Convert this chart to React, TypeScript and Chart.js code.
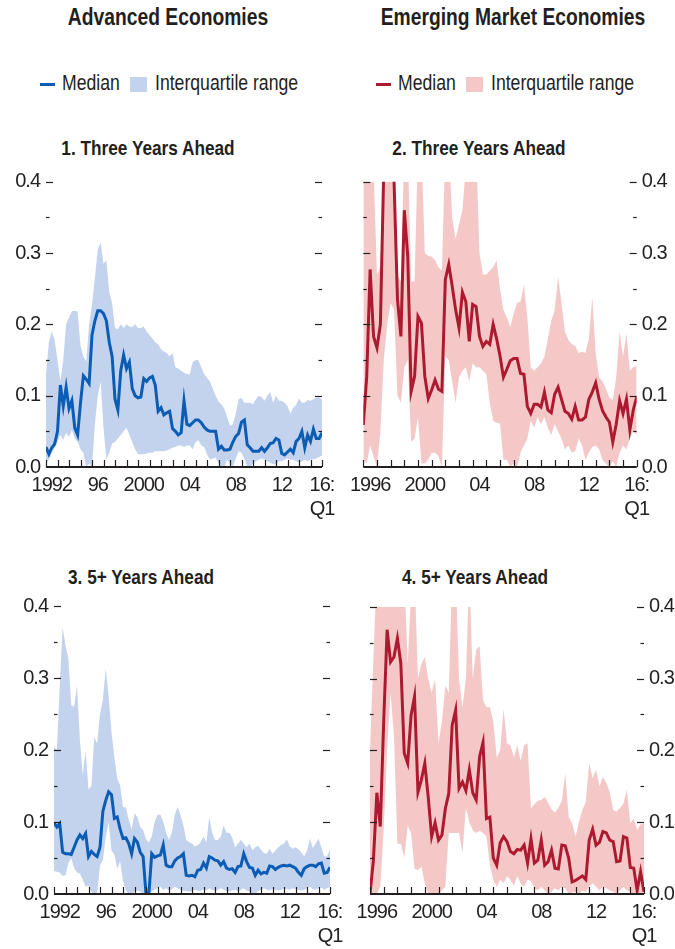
import React, { useEffect, useRef } from 'react';
import { Chart, registerables } from 'chart.js';

Chart.register(...registerables);

const FONT = "'Liberation Sans', Arial, Helvetica, sans-serif";
const TEXT = '#231f20';
const BLUE = '#0b5cb5';
const BLUE_BAND = '#c3d3ee';
const RED = '#ad1a2f';
const RED_BAND = '#f5c8c8';

const aeStart = 1992;
const emStart = 1996;
const endYear = 2016;

// Panel 1: Advanced Economies, three years ahead (1992:Q1 - 2016:Q1)
const ae3Median = [
  0.028, 0.018, 0.027, 0.032, 0.05, 0.115, 0.085, 0.112, 0.082, 0.093,
  0.055, 0.045, 0.09, 0.128, 0.123, 0.117, 0.185, 0.205, 0.219, 0.219,
  0.215, 0.205, 0.175, 0.155, 0.095, 0.08, 0.135, 0.157, 0.138, 0.147,
  0.11, 0.1, 0.097, 0.098, 0.124, 0.12, 0.125, 0.127, 0.115, 0.078,
  0.083, 0.073, 0.076, 0.078, 0.054, 0.05, 0.045, 0.048, 0.093, 0.06,
  0.058, 0.062, 0.066, 0.066, 0.062, 0.056, 0.052, 0.05, 0.05, 0.05,
  0.025, 0.029, 0.024, 0.024, 0.025, 0.035, 0.043, 0.047, 0.063, 0.066,
  0.031, 0.027, 0.022, 0.022, 0.022, 0.027, 0.022, 0.027, 0.033, 0.034,
  0.04, 0.038, 0.019, 0.017, 0.021, 0.025, 0.02, 0.036, 0.04, 0.05,
  0.027, 0.045, 0.036, 0.053, 0.04, 0.04, 0.048,
];
const ae3Upper = [
  0.13, 0.175, 0.19, 0.178, 0.15, 0.12, 0.15, 0.2, 0.21, 0.218,
  0.219, 0.218, 0.17, 0.155, 0.148, 0.2, 0.228, 0.265, 0.305, 0.315,
  0.285, 0.29, 0.245, 0.23, 0.195, 0.193, 0.2, 0.195, 0.2, 0.197,
  0.196, 0.2, 0.195, 0.195, 0.197, 0.19, 0.185, 0.18, 0.175, 0.172,
  0.165, 0.162, 0.16, 0.155, 0.16, 0.14, 0.138, 0.135, 0.132, 0.13,
  0.13, 0.147, 0.15, 0.15, 0.14, 0.13, 0.125, 0.12, 0.11, 0.1,
  0.092, 0.088, 0.082, 0.07, 0.058, 0.06, 0.075, 0.095, 0.097, 0.09,
  0.09, 0.09, 0.088, 0.095, 0.1, 0.098, 0.093, 0.1, 0.105, 0.09,
  0.1, 0.093, 0.093, 0.09, 0.085, 0.075, 0.083, 0.087, 0.096, 0.09,
  0.09, 0.094, 0.093, 0.095, 0.097, 0.097, 0.095,
];
const ae3Lower = [
  0.005, 0.01, 0.02, 0.027, 0.035, 0.045, 0.038, 0.048, 0.042, 0.052,
  0.04, 0.035, 0.025, 0.02, 0.0, 0.005, 0.0, 0.06, 0.1, 0.12,
  0.055, 0.01, 0.02, 0.033, 0.035, 0.04, 0.045, 0.05, 0.055, 0.045,
  0.035, 0.025, 0.018, 0.018, 0.018, 0.019, 0.02, 0.02, 0.022, 0.022,
  0.022, 0.022, 0.023, 0.025, 0.027, 0.028, 0.03, 0.03, 0.028, 0.03,
  0.03, 0.025, 0.035, 0.038, 0.03, 0.028, 0.018, 0.01, 0.012, 0.013,
  0.005, 0.0, 0.0, 0.01, 0.005, 0.0, 0.012, 0.022, 0.02, 0.012,
  0.0, 0.0, 0.005, 0.008, 0.01, 0.012, 0.01, 0.008, 0.006, 0.004,
  0.004, 0.008, 0.008, 0.01, 0.012, 0.01, 0.01, 0.008, 0.006, 0.008,
  0.01, 0.008, 0.01, 0.011, 0.012, 0.014, 0.016,
];

// Panel 2: Emerging Market Economies, three years ahead (1996:Q1 - 2016:Q1)
const em3Median = [
  0.059, 0.127, 0.277, 0.183, 0.167, 0.2, 0.42, 0.48, 0.46, 0.4,
  0.235, 0.183, 0.36, 0.296, 0.106, 0.127, 0.211, 0.202, 0.127, 0.096,
  0.108, 0.122, 0.109, 0.106, 0.263, 0.284, 0.254, 0.221, 0.195, 0.245,
  0.232, 0.176, 0.228, 0.225, 0.183, 0.169, 0.176, 0.172, 0.2, 0.18,
  0.156, 0.126, 0.137, 0.149, 0.152, 0.152, 0.131, 0.13, 0.085, 0.075,
  0.088, 0.088, 0.084, 0.105, 0.08, 0.076, 0.102, 0.112, 0.095, 0.078,
  0.075, 0.067, 0.085, 0.066, 0.066, 0.07, 0.095, 0.105, 0.118, 0.095,
  0.079, 0.07, 0.063, 0.035, 0.06, 0.093, 0.075, 0.095, 0.052, 0.08,
  0.098,
];
const em3Upper = [
  0.45, 0.45, 0.45, 0.42, 0.27, 0.28, 0.45, 0.45, 0.45, 0.45,
  0.27, 0.26, 0.45, 0.45, 0.26, 0.26, 0.45, 0.45, 0.3, 0.296,
  0.295, 0.29, 0.28, 0.275, 0.45, 0.45, 0.35, 0.32, 0.34, 0.36,
  0.42, 0.45, 0.45, 0.45, 0.3, 0.27, 0.27, 0.275, 0.28, 0.29,
  0.25, 0.22, 0.21, 0.196, 0.215, 0.23, 0.232, 0.255, 0.21, 0.14,
  0.135, 0.14, 0.145, 0.155, 0.18, 0.205, 0.22, 0.267, 0.23, 0.19,
  0.178, 0.172, 0.17, 0.16, 0.162, 0.16, 0.18, 0.238, 0.16, 0.126,
  0.12, 0.11, 0.097, 0.094, 0.126, 0.19, 0.155, 0.187, 0.135, 0.14,
  0.142,
];
const em3Lower = [
  0.01, 0.005, 0.03, 0.015, 0.0, 0.05, 0.15, 0.2, 0.23, 0.22,
  0.1, 0.09, 0.14, 0.15, 0.035, 0.04, 0.07, 0.005, 0.005, 0.01,
  0.02, 0.02, 0.015, 0.0, 0.155, 0.15, 0.12, 0.09, 0.125, 0.135,
  0.14, 0.12, 0.145, 0.14, 0.14, 0.135, 0.13, 0.09, 0.065, 0.062,
  0.061, 0.01, 0.01, 0.0, 0.005, 0.0, 0.02, 0.03, 0.04, 0.065,
  0.055, 0.07, 0.06, 0.07, 0.055, 0.045, 0.06, 0.05, 0.04, 0.025,
  0.03, 0.02, 0.022, 0.04, 0.03, 0.01, 0.02, 0.028, 0.03, 0.025,
  0.01, 0.005, 0.0, 0.008, 0.0, 0.02, 0.03, 0.025, 0.04, 0.05,
  0.045,
];

// Panel 3: Advanced Economies, 5+ years ahead (1992:Q1 - 2016:Q1)
const ae5Median = [
  0.099, 0.093, 0.098, 0.058, 0.056, 0.056, 0.055, 0.065, 0.075, 0.082,
  0.077, 0.084, 0.052, 0.059, 0.055, 0.052, 0.065, 0.115, 0.13, 0.142,
  0.138, 0.105, 0.107, 0.09, 0.077, 0.078, 0.07, 0.056, 0.077, 0.072,
  0.058, 0.052, 0.0, 0.0, 0.056, 0.051, 0.053, 0.054, 0.068, 0.04,
  0.038, 0.038, 0.046, 0.05, 0.052, 0.056, 0.026, 0.025, 0.026, 0.024,
  0.033, 0.034, 0.043, 0.036, 0.052, 0.05, 0.047, 0.046, 0.04, 0.045,
  0.036, 0.034, 0.035, 0.03, 0.038, 0.039, 0.056, 0.045, 0.037, 0.036,
  0.026, 0.033, 0.028, 0.03, 0.029, 0.039, 0.038, 0.034, 0.037, 0.039,
  0.04, 0.039, 0.04, 0.038, 0.036, 0.03, 0.026, 0.035, 0.038, 0.04,
  0.04, 0.038, 0.042, 0.043, 0.029, 0.03, 0.037,
];
const ae5Upper = [
  0.205, 0.2, 0.29, 0.37, 0.345, 0.327, 0.262, 0.26, 0.29, 0.215,
  0.165, 0.198, 0.145, 0.15, 0.218, 0.209, 0.25, 0.27, 0.313, 0.274,
  0.225, 0.19, 0.16, 0.151, 0.121, 0.12, 0.103, 0.09, 0.112, 0.107,
  0.093, 0.089, 0.076, 0.072, 0.08, 0.1, 0.11, 0.11, 0.1, 0.085,
  0.075, 0.085, 0.11, 0.121, 0.11, 0.095, 0.075, 0.072, 0.07, 0.066,
  0.068, 0.072, 0.08, 0.072, 0.107, 0.085, 0.075, 0.075, 0.08, 0.095,
  0.085, 0.085, 0.078, 0.065, 0.07, 0.075, 0.07, 0.065, 0.07, 0.061,
  0.065, 0.067, 0.061, 0.057, 0.056, 0.063, 0.056, 0.06, 0.065, 0.068,
  0.07, 0.076, 0.066, 0.063, 0.065, 0.062, 0.058, 0.052, 0.06, 0.077,
  0.064, 0.07, 0.077, 0.065, 0.052, 0.052, 0.062,
];
const ae5Lower = [
  0.032, 0.031, 0.03, 0.025, 0.026, 0.043, 0.05, 0.036, 0.03, 0.028,
  0.02, 0.01, 0.012, 0.003, 0.0, 0.0, 0.04, 0.047, 0.08, 0.1,
  0.06, 0.055, 0.035, 0.045, 0.018, 0.005, 0.0, 0.0, 0.003, 0.005,
  0.003, 0.0, 0.0, 0.0, 0.004, 0.006, 0.008, 0.01, 0.006, 0.008,
  0.005, 0.007, 0.01, 0.008, 0.006, 0.004, 0.004, 0.003, 0.004, 0.006,
  0.005, 0.004, 0.007, 0.005, 0.008, 0.006, 0.004, 0.006, 0.008, 0.006,
  0.004, 0.003, 0.005, 0.006, 0.004, 0.006, 0.008, 0.005, 0.003, 0.001,
  0.0, 0.004, 0.006, 0.008, 0.006, 0.005, 0.007, 0.006, 0.005, 0.006,
  0.008, 0.007, 0.006, 0.008, 0.007, 0.006, 0.005, 0.006, 0.008, 0.01,
  0.007, 0.006, 0.008, 0.009, 0.006, 0.008, 0.01,
];

// Panel 4: Emerging Market Economies, 5+ years ahead (1996:Q1 - 2016:Q1)
const em5Median = [
  0.0, 0.047, 0.141, 0.094, 0.24, 0.368, 0.323, 0.33, 0.356, 0.321,
  0.196, 0.182, 0.249, 0.275, 0.142, 0.159, 0.182, 0.135, 0.08, 0.099,
  0.075, 0.082, 0.119, 0.14, 0.235, 0.256, 0.147, 0.156, 0.144, 0.173,
  0.141, 0.131, 0.191, 0.211, 0.105, 0.107, 0.05, 0.04, 0.071, 0.08,
  0.073, 0.059, 0.056, 0.062, 0.061, 0.068, 0.043, 0.077, 0.043, 0.047,
  0.075, 0.04, 0.045, 0.061, 0.036, 0.035, 0.068, 0.067, 0.05, 0.017,
  0.019, 0.022, 0.025, 0.02, 0.075, 0.09, 0.068, 0.072, 0.087, 0.085,
  0.075, 0.073, 0.045, 0.046, 0.08, 0.078, 0.037, 0.036, 0.005, 0.031,
  0.003,
];
const em5Upper = [
  0.2, 0.33, 0.45, 0.45, 0.45, 0.45, 0.45, 0.45, 0.45, 0.45,
  0.45, 0.32, 0.42, 0.45, 0.3, 0.32, 0.33, 0.3, 0.28, 0.3,
  0.21, 0.24, 0.29, 0.28, 0.45, 0.45, 0.3, 0.26, 0.3, 0.45,
  0.3, 0.34, 0.345, 0.27, 0.26, 0.26, 0.24, 0.19, 0.2, 0.258,
  0.21, 0.207, 0.19, 0.207, 0.185, 0.207, 0.21, 0.119, 0.125, 0.13,
  0.131, 0.135, 0.127, 0.118, 0.113, 0.12, 0.13, 0.168, 0.108, 0.098,
  0.08, 0.1, 0.117, 0.128, 0.182, 0.161, 0.173, 0.15, 0.163, 0.155,
  0.142, 0.117, 0.115, 0.12, 0.126, 0.145, 0.098, 0.105, 0.089, 0.097,
  0.098,
];
const em5Lower = [
  0.0, 0.0, 0.0, 0.01, 0.09, 0.2, 0.28, 0.22, 0.07, 0.07,
  0.05, 0.095, 0.085, 0.035, 0.033, 0.038, 0.015, 0.0, 0.0, 0.0,
  0.0, 0.005, 0.01, 0.085, 0.085, 0.085, 0.085, 0.057, 0.12, 0.1,
  0.089, 0.085, 0.088, 0.085, 0.08, 0.04, 0.02, 0.01, 0.02, 0.015,
  0.025, 0.02, 0.012, 0.025, 0.015, 0.01, 0.02, 0.018, 0.008, 0.005,
  0.01, 0.005, 0.0, 0.003, 0.008, 0.005, 0.01, 0.008, 0.0, 0.002,
  0.003, 0.0, 0.005, 0.003, 0.01, 0.015, 0.01, 0.005, 0.01, 0.008,
  0.005, 0.003, 0.0, 0.005, 0.01, 0.005, 0.003, 0.0, 0.0, 0.0,
  0.0,
];

const aeTickLabels: (string | string[])[] = ['1992', '96', '2000', '04', '08', '12', ['16:', 'Q1']];
const aeTickPositions = [1992.5, 1996.5, 2000.5, 2004.5, 2008.5, 2012.5, 2016];
const emTickLabels: (string | string[])[] = ['1996', '2000', '04', '08', '12', ['16:', 'Q1']];
const emTickPositions = [1996.5, 2000.5, 2004.5, 2008.5, 2012.5, 2016];
const yTickValues = [0, 0.1, 0.2, 0.3, 0.4];

const toPoints = (start: number, vals: number[]) => vals.map((v, i) => ({ x: start + i / 4, y: v }));

const condensePlugin = {
  id: 'condense',
  beforeDraw(chart: any) {
    try { (chart.ctx as any).letterSpacing = '-1px'; } catch (e) { /* ignore */ }
  },
};

const marksPlugin = {
  id: 'innerMarks',
  afterDatasetsDraw(chart: any, _args: any, opts: any) {
    const { ctx, chartArea: a, scales } = chart;
    const xs = scales.x;
    const ys = scales.y;
    ctx.save();
    ctx.strokeStyle = TEXT;
    ctx.lineWidth = 1.2;
    for (let k = 1; k <= 8; k++) {
      const py = Math.round(ys.getPixelForValue(k * 0.05)) + 0.5;
      const len = k % 2 === 0 ? 7 : 3.5;
      ctx.beginPath();
      ctx.moveTo(a.left, py);
      ctx.lineTo(a.left + len, py);
      ctx.stroke();
      ctx.beginPath();
      ctx.moveTo(a.right, py);
      ctx.lineTo(a.right - len, py);
      ctx.stroke();
    }
    const y0 = ys.getPixelForValue(0);
    for (let yr = opts.start; yr <= endYear; yr++) {
      const px = Math.round(xs.getPixelForValue(yr)) + 0.5;
      ctx.beginPath();
      ctx.moveTo(px, y0);
      ctx.lineTo(px, y0 - 7);
      ctx.stroke();
    }
    ctx.lineWidth = 2;
    ctx.beginPath();
    ctx.moveTo(a.left, y0);
    ctx.lineTo(a.right, y0);
    ctx.stroke();
    ctx.restore();
  },
};

type PanelProps = {
  left: number; top: number; w: number; h: number;
  padLeft: number; padRight: number; padTop: number;
  yPos: 'left' | 'right'; yWidth: number; xHeight: number;
  start: number; median: number[]; upper: number[]; lower: number[];
  line: string; band: string;
  tickPos: number[]; tickLabels: (string | string[])[];
};

function Panel(p: PanelProps) {
  const ref = useRef<HTMLCanvasElement | null>(null);
  useEffect(() => {
    if (!ref.current) return;
    const tickFont = { family: FONT, size: 20, lineHeight: 1.2 };
    const chart = new Chart(ref.current, {
      type: 'line',
      data: {
        datasets: [
          { data: toPoints(p.start, p.median), borderColor: p.line, borderWidth: 3, pointRadius: 0, fill: false, tension: 0 },
          { data: toPoints(p.start, p.upper), borderWidth: 0, borderColor: 'rgba(0,0,0,0)', backgroundColor: p.band, pointRadius: 0, fill: '+1', tension: 0 },
          { data: toPoints(p.start, p.lower), borderWidth: 0, borderColor: 'rgba(0,0,0,0)', pointRadius: 0, fill: false, tension: 0 },
        ],
      },
      options: {
        responsive: false,
        animation: false,
        events: [],
        layout: { padding: { left: p.padLeft, right: p.padRight, top: p.padTop, bottom: 0 } },
        plugins: {
          legend: { display: false },
          tooltip: { enabled: false },
          innerMarks: { start: p.start },
        } as any,
        scales: {
          x: {
            type: 'linear',
            min: p.start,
            max: endYear,
            grid: { display: false, drawTicks: false },
            border: { display: false },
            afterBuildTicks: (s: any) => { s.ticks = p.tickPos.map((v) => ({ value: v })); },
            afterFit: (s: any) => { s.height = p.xHeight; s.paddingLeft = 0; s.paddingRight = 0; },
            ticks: {
              autoSkip: false, maxRotation: 0, minRotation: 0, padding: 6, color: TEXT, font: tickFont,
              callback: (_v: any, i: number) => p.tickLabels[i],
            },
          },
          y: {
            type: 'linear',
            position: p.yPos,
            min: 0,
            max: 0.4,
            grid: { display: false, drawTicks: false },
            border: { display: false },
            afterBuildTicks: (s: any) => { s.ticks = yTickValues.map((v) => ({ value: v })); },
            afterFit: (s: any) => { s.width = p.yWidth; s.paddingTop = 0; s.paddingBottom = 0; },
            ticks: {
              padding: p.yPos === 'left' ? 6 : 5, color: TEXT, font: tickFont,
              callback: (v: any) => Number(v).toFixed(1),
            },
          },
        },
      } as any,
      plugins: [condensePlugin, marksPlugin],
    });
    return () => chart.destroy();
  }, []);
  return (
    <canvas
      ref={ref}
      width={p.w}
      height={p.h}
      style={{ position: 'absolute', left: p.left, top: p.top, width: p.w, height: p.h }}
    />
  );
}

const SQ = 0.82;

const txt = (extra: React.CSSProperties): React.CSSProperties => ({
  position: 'absolute', whiteSpace: 'nowrap', color: TEXT, fontFamily: FONT, lineHeight: 1, ...extra,
});

const centered = (cx: number, cy: number, size: number): React.CSSProperties =>
  txt({ left: cx, top: cy, fontSize: size, fontWeight: 'bold', transform: `translate(-50%,-50%) scaleX(${SQ})` });

const leftText = (x: number, cy: number, size: number): React.CSSProperties =>
  txt({ left: x, top: cy, fontSize: size, transformOrigin: '0 50%', transform: `translateY(-50%) scaleX(${SQ})` });

function Legend({ x, line, band }: { x: number; line: string; band: string }) {
  return (
    <>
      <div style={{ position: 'absolute', left: x, top: 83, width: 15, height: 3, background: line }} />
      <div style={leftText(x + 22, 84, 21.5)}>Median</div>
      <div style={{ position: 'absolute', left: x + 90, top: 77, width: 17, height: 15, background: band }} />
      <div style={leftText(x + 115, 84, 21.5)}>Interquartile range</div>
    </>
  );
}

export default function App() {
  return (
    <div style={{ position: 'absolute', left: 0, top: 0, width: 675, height: 949, background: '#fff', overflow: 'hidden' }}>
      <div style={centered(168, 18, 23.5)}>Advanced Economies</div>
      <div style={centered(513, 18, 23.5)}>Emerging Market Economies</div>
      <Legend x={40} line={BLUE} band={BLUE_BAND} />
      <Legend x={376} line={RED} band={RED_BAND} />
      <div style={centered(147.5, 147, 21)}>1. Three Years Ahead</div>
      <div style={centered(478.5, 147, 21)}>2. Three Years Ahead</div>
      <div style={centered(141, 576, 21)}>3. 5+ Years Ahead</div>
      <div style={centered(475, 576, 21)}>4. 5+ Years Ahead</div>

      <Panel left={0} top={165} w={337} h={360} padLeft={0} padRight={15} padTop={16.7}
        yPos="left" yWidth={46} xHeight={58} start={aeStart}
        median={ae3Median} upper={ae3Upper} lower={ae3Lower} line={BLUE} band={BLUE_BAND}
        tickPos={aeTickPositions} tickLabels={aeTickLabels} />
      <Panel left={337} top={165} w={338} h={360} padLeft={26.3} padRight={0} padTop={16.7}
        yPos="right" yWidth={38.3} xHeight={58} start={emStart}
        median={em3Median} upper={em3Upper} lower={em3Lower} line={RED} band={RED_BAND}
        tickPos={emTickPositions} tickLabels={emTickLabels} />
      <Panel left={0} top={590} w={345} h={359} padLeft={0} padRight={15} padTop={16}
        yPos="left" yWidth={54} xHeight={55} start={aeStart}
        median={ae5Median} upper={ae5Upper} lower={ae5Lower} line={BLUE} band={BLUE_BAND}
        tickPos={aeTickPositions} tickLabels={aeTickLabels} />
      <Panel left={345} top={590} w={330} h={359} padLeft={25} padRight={0} padTop={16.7}
        yPos="right" yWidth={31} xHeight={55} start={emStart}
        median={em5Median} upper={em5Upper} lower={em5Lower} line={RED} band={RED_BAND}
        tickPos={emTickPositions} tickLabels={emTickLabels} />
    </div>
  );
}
